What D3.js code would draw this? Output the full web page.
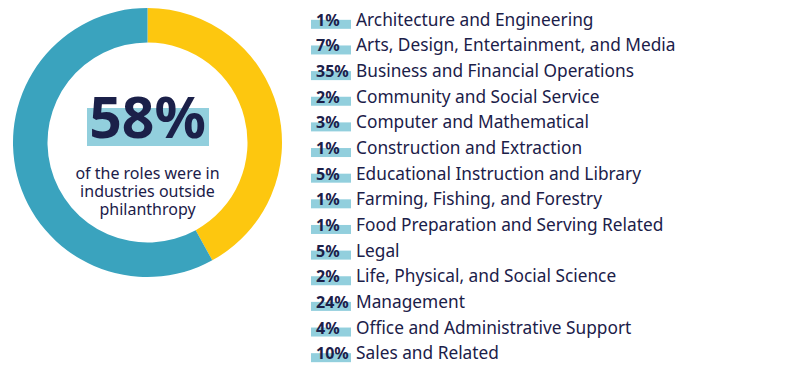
<!DOCTYPE html>
<html>
<head>
<meta charset="utf-8">
<script src="https://cdn.jsdelivr.net/npm/d3@7"></script>
<style>
  body { margin: 0; background: #fff; }
  svg { display: block; font-family: "Noto Sans", Lato, sans-serif; }
</style>
</head>
<body>
<svg id="chart" width="792" height="381"></svg>
<script>
// donut: share outside philanthropy vs the rest
const donutLabels = ["inside", "outside"];
const donutValues = [42, 58];
const headline = "58%";
const subtitle = ["of the roles were in", "industries outside", "philanthropy"];

// industry breakdown
const industries = [
    "Architecture and Engineering",
    "Arts, Design, Entertainment, and Media",
    "Business and Financial Operations",
    "Community and Social Service",
    "Computer and Mathematical",
    "Construction and Extraction",
    "Educational Instruction and Library",
    "Farming, Fishing, and Forestry",
    "Food Preparation and Serving Related",
    "Legal",
    "Life, Physical, and Social Science",
    "Management",
    "Office and Administrative Support",
    "Sales and Related"
];
const shares = [1, 7, 35, 2, 3, 1, 5, 1, 1, 5, 2, 24, 4, 10];

const navy = "#1b2049";
const teal = "#3aa3be";
const yellow = "#fdc70f";
const hilite = "#92cfdd";

const svg = d3.select("#chart");

// donut
const cx = 147.5, cy = 142.5;
const pie = d3.pie().sort(null).value(d => d);
const arc = d3.arc().innerRadius(100).outerRadius(134.5);
const colour = d3.scaleOrdinal().domain(donutLabels).range([yellow, teal]);

const g = svg.append("g").attr("transform", `translate(${cx},${cy})`);
g.selectAll("path")
    .data(pie(donutValues))
    .enter().append("path")
    .attr("d", arc)
    .attr("fill", (d, i) => colour(donutLabels[i]));

// headline with highlight
g.append("rect")
    .attr("x", -60.5).attr("y", -34.5)
    .attr("width", 122).attr("height", 38)
    .attr("fill", hilite);
g.append("text")
    .attr("x", 0).attr("y", -4.5)
    .attr("text-anchor", "middle")
    .attr("fill", navy)
    .style("font-size", "57px")
    .style("font-weight", 700)
    .text(headline);

// subtitle as one text block, tight line spacing like the original
g.append("text")
    .attr("class", "sub")
    .attr("text-anchor", "middle")
    .attr("fill", navy)
    .style("font-size", "16px")
    .selectAll("tspan")
    .data(subtitle)
    .enter().append("tspan")
    .attr("x", 0)
    .attr("y", (d, i) => 36 + i * 18.3)
    .text(d => d);

// list
const y = d3.scaleBand()
    .domain(industries)
    .range([7, 366])
    .padding(0);

const rows = svg.selectAll(".row")
    .data(industries)
    .enter().append("g")
    .attr("class", "row")
    .attr("transform", d => `translate(0,${y(d) + y.bandwidth() / 2 + 6})`);

rows.append("rect")
    .attr("x", 311).attr("y", -6)
    .attr("width", 40).attr("height", 9)
    .attr("fill", hilite);

rows.append("text")
    .attr("x", 316)
    .attr("fill", navy)
    .style("font-size", "16px")
    .style("font-weight", 700)
    .text((d, i) => shares[i] + "%");

rows.append("text")
    .attr("x", 356)
    .attr("fill", navy)
    .style("font-size", "17.3px")
    .text(d => d);
</script>
</body>
</html>
